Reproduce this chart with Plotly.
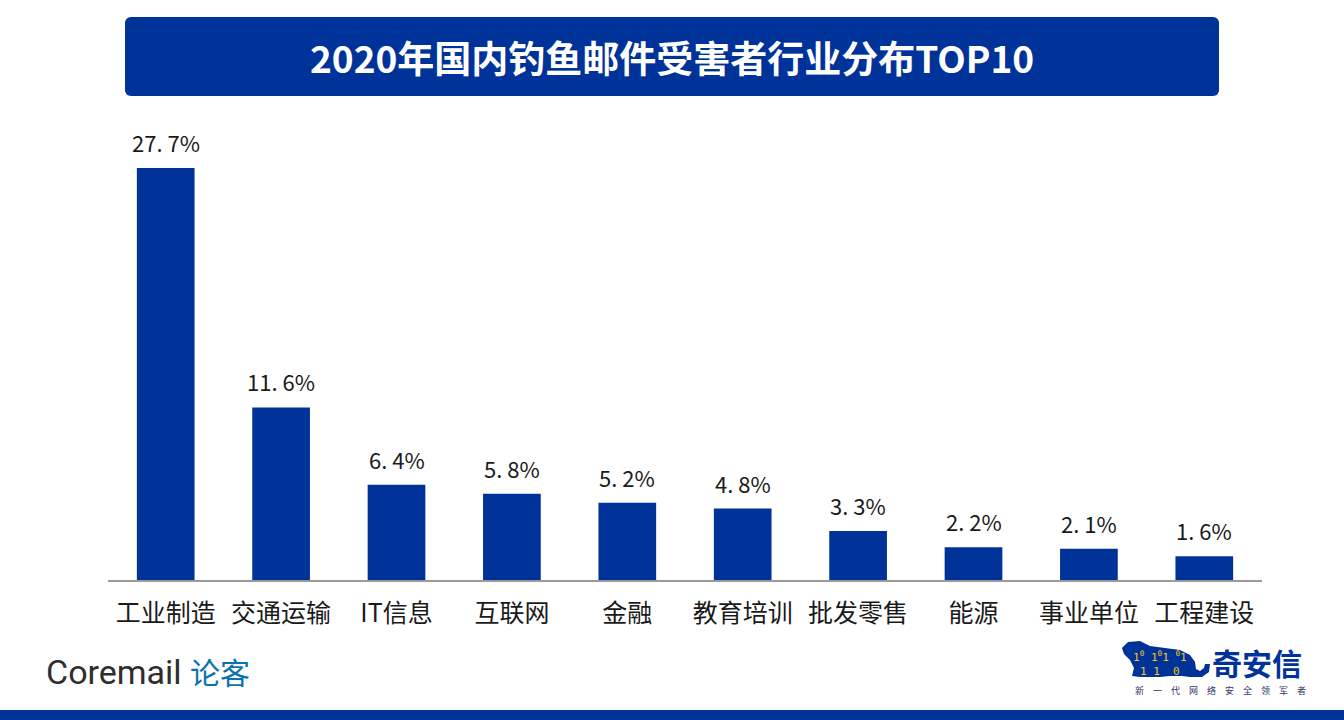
import plotly.graph_objects as go

categories = ["工业制造", "交通运输", "IT信息", "互联网", "金融", "教育培训", "批发零售", "能源", "事业单位", "工程建设"]
values = [27.7, 11.6, 6.4, 5.8, 5.2, 4.8, 3.3, 2.2, 2.1, 1.6]
labels = ["27. 7%", "11. 6%", "6. 4%", "5. 8%", "5. 2%", "4. 8%", "3. 3%", "2. 2%", "2. 1%", "1. 6%"]
title = "2020年国内钓鱼邮件受害者行业分布TOP10"
slogan = "\u2003".join("新一代网络安全领军者")

BLUE = "#003399"
W, H = 1344, 720


def px(x, y):
    return x / W, 1 - y / H


def path(points, close=True):
    parts = []
    for i, (x, y) in enumerate(points):
        fx, fy = px(x, y)
        parts.append(("M" if i == 0 else "L") + f"{fx:.5f},{fy:.5f}")
    return " ".join(parts) + (" Z" if close else "")


def rounded_rect(x0, y0, x1, y1, r):
    import math
    pts = []
    corners = [(x1 - r, y0 + r, -90, 0), (x1 - r, y1 - r, 0, 90), (x0 + r, y1 - r, 90, 180), (x0 + r, y0 + r, 180, 270)]
    for cx, cy, a0, a1 in corners:
        for k in range(7):
            a = math.radians(a0 + (a1 - a0) * k / 6)
            pts.append((cx + r * math.cos(a), cy + r * math.sin(a)))
    return path(pts)


tiger = [(1128, 642), (1140, 641), (1150, 646), (1165, 648), (1180, 650), (1190, 655), (1195, 662),
         (1196, 669), (1200, 671), (1204, 668), (1205, 664), (1210, 664), (1209, 672), (1202, 677),
         (1190, 677), (1182, 676), (1170, 676), (1160, 677), (1140, 677), (1132, 676), (1134, 668),
         (1130, 660), (1124, 654), (1122, 648)]

fig = go.Figure()
fig.add_trace(go.Bar(
    x=categories, y=values,
    marker=dict(color=BLUE, line=dict(width=0)), width=0.5,
    hoverinfo="x+y",
))

value_annotations = [
    dict(x=c, y=v, xref="x", yref="y", text=t, showarrow=False, yanchor="bottom", xanchor="center",
         yshift=8, font=dict(family="Noto Sans CJK SC, DejaVu Sans", size=22, color="#1a1a1a"))
    for c, v, t in zip(categories, values, labels)
]

fig.update_layout(
    width=W, height=H, margin=dict(l=0, r=0, t=0, b=0),
    paper_bgcolor="white", plot_bgcolor="white", showlegend=False,
    xaxis=dict(domain=[108 / W, 1262 / W], showline=True, linecolor="#9a9a9a", linewidth=1.5,
               ticks="", ticklabelstandoff=10,
               tickfont=dict(family="Noto Sans CJK SC", size=25, color="#1a1a1a"),
               showgrid=False),
    yaxis=dict(domain=[(H - 580) / H, (H - 120) / H], range=[0, 30.93], visible=False, showgrid=False),
    shapes=[
        dict(type="path", xref="paper", yref="paper", path=rounded_rect(125, 17, 1219, 96, 6),
             fillcolor=BLUE, line=dict(width=0), layer="below"),
        dict(type="rect", xref="paper", yref="paper", x0=0, x1=1, y0=0, y1=10 / H,
             fillcolor=BLUE, line=dict(width=0)),
        dict(type="path", xref="paper", yref="paper", path=path(tiger),
             fillcolor=BLUE, line=dict(width=0)),
    ],
    annotations=value_annotations + [
        dict(text="<b>" + title + "</b>", xref="paper", yref="paper", x=672 / W, y=1 - 57 / H,
             xanchor="center", yanchor="middle",
             showarrow=False, font=dict(family="Noto Sans CJK SC", size=37, color="white")),
        dict(text="Coremail", xref="paper", yref="paper", x=44 / W, y=1 - 672 / H,
             xanchor="left", yanchor="middle",
             showarrow=False, font=dict(family="Roboto, Noto Sans", size=34, color="#2e2e2e")),
        dict(text="论客", xref="paper", yref="paper", x=188 / W, y=1 - 671 / H,
             xanchor="left", yanchor="middle",
             showarrow=False, font=dict(family="Noto Sans CJK SC", size=30, color="#0872b4")),
        dict(text="<b>奇安信</b>", xref="paper", yref="paper", x=1210 / W, y=1 - 662 / H,
             xanchor="left", yanchor="middle",
             showarrow=False, font=dict(family="Noto Sans CJK SC", size=30, color=BLUE)),
        dict(text=slogan, xref="paper", yref="paper", x=1220 / W, y=1 - 690 / H,
             xanchor="center", yanchor="middle",
             showarrow=False, font=dict(family="Noto Sans CJK SC", size=9, color="#333366")),
        dict(text="1<sup>0</sup> 1<sup>0</sup>1 <sup>0</sup>1<br>1 1  0", xref="paper", yref="paper",
             x=1160 / W, y=1 - 663 / H, xanchor="center", yanchor="middle", showarrow=False,
             font=dict(family="DejaVu Sans Mono", size=11, color="#f5c518")),
    ],
)

fig.write_html("out.html", config={"displayModeBar": False},
               post_script="document.body.style.margin='0';document.body.style.overflow='hidden';")
